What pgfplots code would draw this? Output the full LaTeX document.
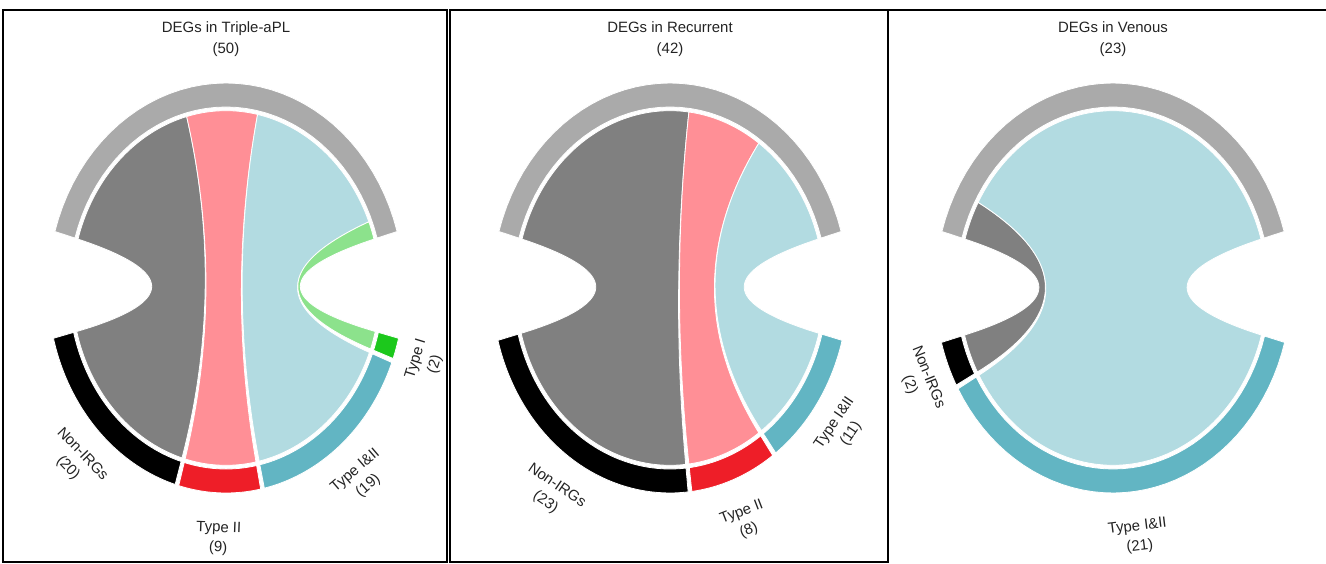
\documentclass[border=0pt]{standalone}
\usepackage{pgfplots}
\pgfplotsset{compat=1.18}
\usepackage{fontspec}
\setmainfont{Liberation Sans}

\definecolor{trackgray}{RGB}{170,170,170}
\definecolor{segblack}{RGB}{0,0,0}
\definecolor{chordgray}{RGB}{128,128,128}
\definecolor{segred}{RGB}{238,30,40}
\definecolor{chordred}{RGB}{255,143,150}
\definecolor{segteal}{RGB}{98,181,195}
\definecolor{chordblue}{RGB}{178,219,225}
\definecolor{seggreen}{RGB}{28,200,28}
\definecolor{chordgreen}{RGB}{140,226,140}
\definecolor{textdark}{RGB}{35,35,35}

% ring radii (axis units), label radii, layout angles
\def\rout{1.0}
\def\rin{0.883}
\def\rch{0.865}
\def\rlabx{1.08}
\def\rlaby{1.14}
\def\topstart{164}
\def\arcspan{148}
\def\sgap{1.2}

\newcommand\labfont{\fontsize{15}{20}\selectfont}

\pgfplotsset{
  panel/.style={scale only axis, height=552bp, anchor=south west,
    ymin=-1.3366, ymax=1.3561, xtick=\empty, ytick=\empty,
    axis line style={line width=2bp, black}, clip=false},
  seg/.style={domain=0:4, samples=161, variable=\vt, draw=white, line width=0.8bp},
  chord/.style={domain=0:4, samples=241, variable=\vt, draw=white, line width=0.8bp},
}
\tikzset{
  lab/.style={font=\labfont, align=center, anchor=north, inner sep=0pt, text=textdark},
  ttl/.style={font=\fontsize{15}{21}\selectfont, align=center, anchor=north, inner sep=0pt, text=textdark},
}

% one panel: total size and number of groups on the lower half
\newcommand{\startpanel}[2]{\gdef\total{#1}\gdef\ngroups{#2}\gdef\cum{0}\gdef\idx{0}}

% draw the top sector
\newcommand{\topsector}[1]{%
  \addplot[seg, fill=trackgray] ({ringx(\vt,\topstart,\topstart-\arcspan,\rin,\rout)},{ringy(\vt,\topstart,\topstart-\arcspan,\rin,\rout)});
  \edef\next{\noexpand\node[ttl] at (axis cs:0,1.302) {\unexpanded{#1\\}(\total)};}\next
}

% one group: count, segment colour, link colour, name
\newcommand{\degroup}[4]{%
  \pgfmathsetmacro\unitdeg{\arcspan/\total}%
  \pgfmathsetmacro\aA{\topstart-\unitdeg*\cum}%
  \pgfmathsetmacro\aB{\topstart-\unitdeg*(\cum+#1)}%
  \pgfmathsetmacro\bA{270-(\arcspan+\sgap*(\ngroups-1))/2+\unitdeg*\cum+\sgap*\idx}%
  \pgfmathsetmacro\bB{\bA+\unitdeg*#1}%
  \pgfmathsetmacro\midang{(\bA+\bB)/2}%
  \pgfmathsetmacro\lx{\rlabx*cos(\midang)}%
  \pgfmathsetmacro\ly{\rlaby*sin(\midang)}%
  \pgfmathsetmacro\lrot{\midang+90}%
  \edef\next{%
    \noexpand\addplot[seg, fill=#2] ({ringx(\noexpand\vt,\bA,\bB,\rin,\rout)},{ringy(\noexpand\vt,\bA,\bB,\rin,\rout)});%
    \noexpand\addplot[chord, fill=#3] ({ribx(\noexpand\vt,\aA,\aB,\bA,\bB)},{riby(\noexpand\vt,\aA,\aB,\bA,\bB)});%
    \noexpand\node[lab, rotate=\lrot] at (axis cs:\lx,\ly) {\unexpanded{#4\\}(#1)};%
  }\next
  \pgfmathsetmacro\tmp{\cum+#1}\xdef\cum{\tmp}%
  \pgfmathsetmacro\tmp{\idx+1}\xdef\idx{\tmp}%
}

\begin{document}
\begin{tikzpicture}[declare function={
  ringx(\qa,\qb,\qc,\qd,\qe)=(\qa<1) ? \qe*cos(\qb+(\qc-\qb)*\qa) : ((\qa<2) ? (\qe+(\qd-\qe)*(\qa-1))*cos(\qc) : ((\qa<3) ? \qd*cos(\qc+(\qb-\qc)*(\qa-2)) : (\qd+(\qe-\qd)*(\qa-3))*cos(\qb)));
  ringy(\qa,\qb,\qc,\qd,\qe)=(\qa<1) ? \qe*sin(\qb+(\qc-\qb)*\qa) : ((\qa<2) ? (\qe+(\qd-\qe)*(\qa-1))*sin(\qc) : ((\qa<3) ? \qd*sin(\qc+(\qb-\qc)*(\qa-2)) : (\qd+(\qe-\qd)*(\qa-3))*sin(\qb)));
  ribx(\qa,\qb,\qc,\qd,\qe)=\rch*((\qa<1) ? cos(\qb+(\qc-\qb)*\qa) : ((\qa<2) ? (2-\qa)*(2-\qa)*cos(\qc)+(\qa-1)*(\qa-1)*cos(\qe) : ((\qa<3) ? cos(\qe+(\qd-\qe)*(\qa-2)) : (4-\qa)*(4-\qa)*cos(\qd)+(\qa-3)*(\qa-3)*cos(\qb))));
  riby(\qa,\qb,\qc,\qd,\qe)=\rch*((\qa<1) ? sin(\qb+(\qc-\qb)*\qa) : ((\qa<2) ? (2-\qa)*(2-\qa)*sin(\qc)+(\qa-1)*(\qa-1)*sin(\qe) : ((\qa<3) ? sin(\qe+(\qd-\qe)*(\qa-2)) : (4-\qa)*(4-\qa)*sin(\qd)+(\qa-3)*(\qa-3)*sin(\qb))));
}]
\useasboundingbox (0,0) rectangle (1326bp,564bp);

% Triple-aPL
\startpanel{50}{4}
\begin{axis}[panel, at={(3bp,2bp)}, width=444bp, xmin=-1.2528, xmax=1.2416]
  \topsector{DEGs in Triple-aPL}
  \degroup{20}{segblack}{chordgray}{Non-IRGs}
  \degroup{9}{segred}{chordred}{Type II}
  \degroup{19}{segteal}{chordblue}{Type I\&II}
  \degroup{2}{seggreen}{chordgreen}{Type I}
\end{axis}

% Recurrent
\startpanel{42}{3}
\begin{axis}[panel, at={(450bp,2bp)}, width=438bp, xmin=-1.2360, xmax=1.2247]
  \topsector{DEGs in Recurrent}
  \degroup{23}{segblack}{chordgray}{Non-IRGs}
  \degroup{8}{segred}{chordred}{Type II}
  \degroup{11}{segteal}{chordblue}{Type I\&II}
\end{axis}

% Venous
\startpanel{23}{2}
\begin{axis}[panel, hide axis, at={(888bp,2bp)}, width=438bp, xmin=-1.2640, xmax=1.1966]
  \draw[line width=2bp] (rel axis cs:0,1) -- (rel axis cs:1,1);
  \topsector{DEGs in Venous}
  \degroup{2}{segblack}{chordgray}{Non-IRGs}
  \degroup{21}{segteal}{chordblue}{Type I\&II}
\end{axis}
\end{tikzpicture}
\end{document}
